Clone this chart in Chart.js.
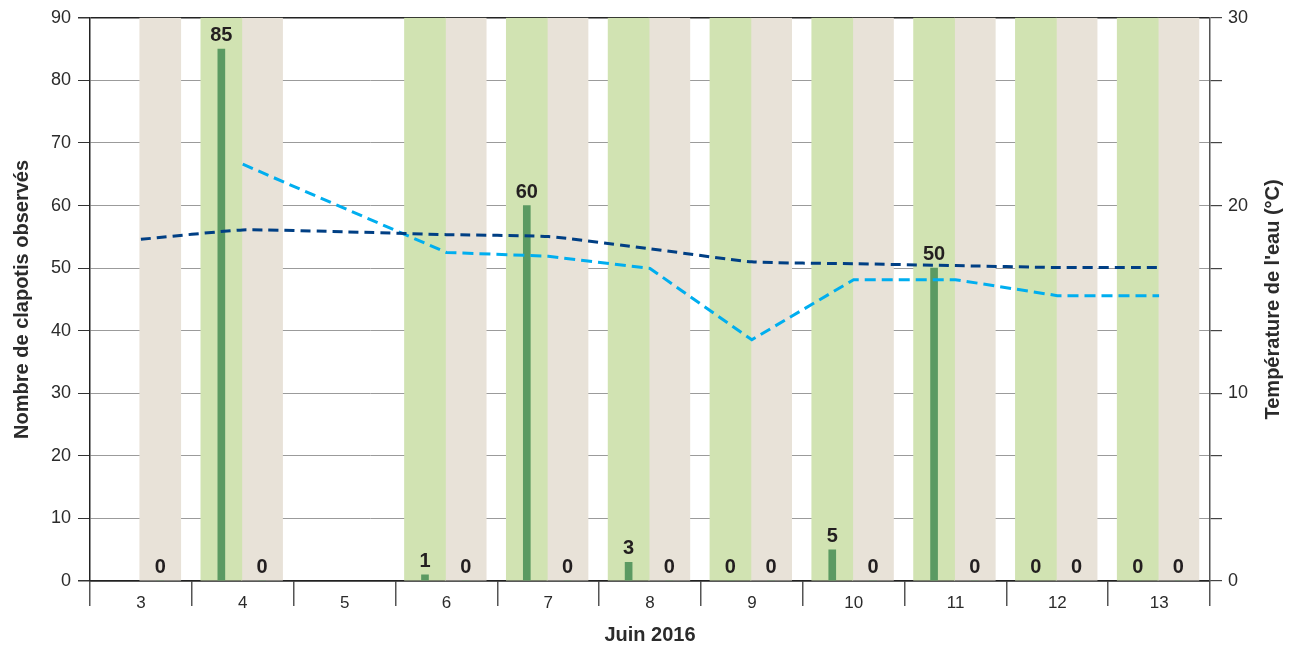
<!DOCTYPE html>
<html>
<head>
<meta charset="utf-8">
<script src="https://cdn.jsdelivr.net/npm/chart.js@4"></script>
<style>
  html, body { margin: 0; padding: 0; background: #fff; }
  #wrap { width: 1296px; height: 652px; }
</style>
</head>
<body>
<div id="wrap"><canvas id="chart" width="1296" height="652"></canvas></div>
<script>
// days of June 2016, one slot per day
const DAYS = ['3', '4', '5', '6', '7', '8', '9', '10', '11', '12', '13'];
// clapotis counts: first half-slot (green band) and second half-slot (beige band), null = no observation
const COUNT_GREEN = [null, 85, null, 1, 60, 3, 0, 5, 50, 0, 0];
const COUNT_BEIGE = [0, 0, null, 0, 0, 0, 0, 0, 0, 0, 0];
// water temperature (°C), right axis
const TEMP_DARK = [18.2, 18.7, 18.6, 18.45, 18.35, 17.7, 17.0, 16.9, 16.8, 16.7, 16.7];
const TEMP_LIGHT = [null, 22.2, null, 17.5, 17.3, 16.65, 12.85, 16.05, 16.05, 15.2, 15.2];
const COUNT_MAX = 90;
const TEMP_TICKS = [0, 1, 2, 3, 4, 5, 6, 7, 8, 9].map(k => (k * 10) / 3);
const TEMP_TITLE = "Température de l'eau (°C)";

const C = {
  bandGreen: '#d1e3b2', bandBeige: '#e8e2d8', bar: '#5b9a62',
  dark: '#003f84', light: '#00aeef', grid: '#9b9b9b', axis: '#222', text: '#2b2b2b'
};
const GREEN_POS = 0.29, BEIGE_POS = 0.69, MID = 0.5;

Chart.defaults.font.family = "'Liberation Sans', Arial, sans-serif";
Chart.defaults.color = C.text;

const slot = (arr, pos, fn) => arr.map((v, i) => ({ x: i + pos, y: v === null ? null : fn(v) }));

const valueLabels = {
  id: 'valueLabels',
  afterDraw(chart) {
    const ctx = chart.ctx;
    ctx.save();
    ctx.font = "bold 20px 'Liberation Sans Narrow', 'Liberation Sans', Arial, sans-serif";
    ctx.fillStyle = '#231f20';
    ctx.textAlign = 'center';
    ctx.textBaseline = 'alphabetic';
    chart.data.datasets.forEach((ds, di) => {
      if (!ds.isCount) return;
      chart.getDatasetMeta(di).data.forEach((el, i) => {
        const v = ds.data[i].y;
        if (v === null || v === undefined) return;
        ctx.fillText(String(v), el.x, el.y - 8);
      });
    });
    // right axis title, read bottom to top like the left one
    const a = chart.chartArea;
    ctx.font = "bold 20px 'Liberation Sans', Arial, sans-serif";
    ctx.fillStyle = C.text;
    ctx.textBaseline = 'middle';
    ctx.translate(1273, (a.top + a.bottom) / 2);
    ctx.rotate(-Math.PI / 2);
    ctx.fillText(TEMP_TITLE, 0, 0);
    ctx.restore();
  }
};

function makeChart() {
  new Chart(document.getElementById('chart'), {
    type: 'bar',
    data: {
      datasets: [
        { type: 'line', label: 'Température 1', data: slot(TEMP_DARK, MID, v => v), yAxisID: 'y1',
          borderColor: C.dark, borderWidth: 3, borderDash: [10, 6], pointRadius: 0, tension: 0.15,
          fill: false, order: 0 },
        { type: 'line', label: 'Température 2', data: slot(TEMP_LIGHT, MID, v => v), yAxisID: 'y1',
          borderColor: C.light, borderWidth: 3, borderDash: [11, 6], pointRadius: 0, tension: 0,
          spanGaps: true, fill: false, order: 0 },
        { label: 'Clapotis A', isCount: true, data: slot(COUNT_GREEN, GREEN_POS, v => v),
          backgroundColor: C.bar, barThickness: 7, grouped: false, order: 1 },
        { label: 'Clapotis B', isCount: true, data: slot(COUNT_BEIGE, BEIGE_POS, v => v),
          backgroundColor: C.bar, barThickness: 7, grouped: false, order: 1 },
        { label: 'bande verte', data: slot(COUNT_GREEN, GREEN_POS, () => COUNT_MAX),
          backgroundColor: C.bandGreen, barThickness: 41, grouped: false, order: 2 },
        { label: 'bande beige', data: slot(COUNT_BEIGE, BEIGE_POS, () => COUNT_MAX),
          backgroundColor: C.bandBeige, barThickness: 41, grouped: false, order: 2 }
      ]
    },
    options: {
      responsive: false,
      animation: false,
      events: [],
      layout: { padding: { top: 17, left: 0, right: 0, bottom: 0 } },
      plugins: { legend: { display: false }, tooltip: { enabled: false } },
      scales: {
        x: {
          type: 'linear', min: 0, max: DAYS.length, offset: false, z: 1,
          afterFit: s => { s.height = 71; },
          border: { color: C.axis, width: 1.5 },
          grid: { drawOnChartArea: false, offset: false, tickLength: 25, color: '#555', lineWidth: 1.5 },
          ticks: {
            stepSize: 1, maxTicksLimit: 20, autoSkip: false, labelOffset: 51, padding: -13, maxRotation: 0,
            font: { size: 17 }, color: C.text,
            callback: v => (v < DAYS.length ? DAYS[v] : '')
          },
          title: { display: true, text: 'Juin 2016', font: { size: 20, weight: 'bold' },
                   color: C.text, padding: { top: 0, bottom: 5 } }
        },
        y: {
          position: 'left', min: 0, max: COUNT_MAX, z: 1,
          afterFit: s => { s.width = 90; },
          border: { color: C.axis, width: 1.5 },
          grid: {
            color: c => (c.tick && (c.tick.value === 0 || c.tick.value === COUNT_MAX) ? C.axis : C.grid),
            lineWidth: c => (c.tick && (c.tick.value === 0 || c.tick.value === COUNT_MAX) ? 1.5 : 1),
            tickColor: '#333', tickLength: 12
          },
          ticks: { stepSize: 10, padding: 7, font: { size: 18 }, color: C.text },
          title: { display: true, text: 'Nombre de clapotis observés', font: { size: 20, weight: 'bold' },
                   color: C.text, padding: { top: 10, bottom: 0 } }
        },
        y1: {
          position: 'right', min: 0, max: 30, z: 1,
          afterFit: s => { s.width = 86; },
          afterBuildTicks: s => { s.ticks = TEMP_TICKS.map(v => ({ value: v })); },
          border: { color: '#555', width: 1.5 },
          grid: { drawOnChartArea: false, tickLength: 12, color: '#444', lineWidth: 1.2 },
          ticks: {
            padding: 6, font: { size: 18 }, color: C.text,
            callback: v => (Math.abs(v - Math.round(v / 10) * 10) < 1e-6 ? String(Math.round(v)) : '')
          }
        }
      }
    },
    plugins: [valueLabels]
  });
}

document.addEventListener('DOMContentLoaded', makeChart);
</script>
</body>
</html>
